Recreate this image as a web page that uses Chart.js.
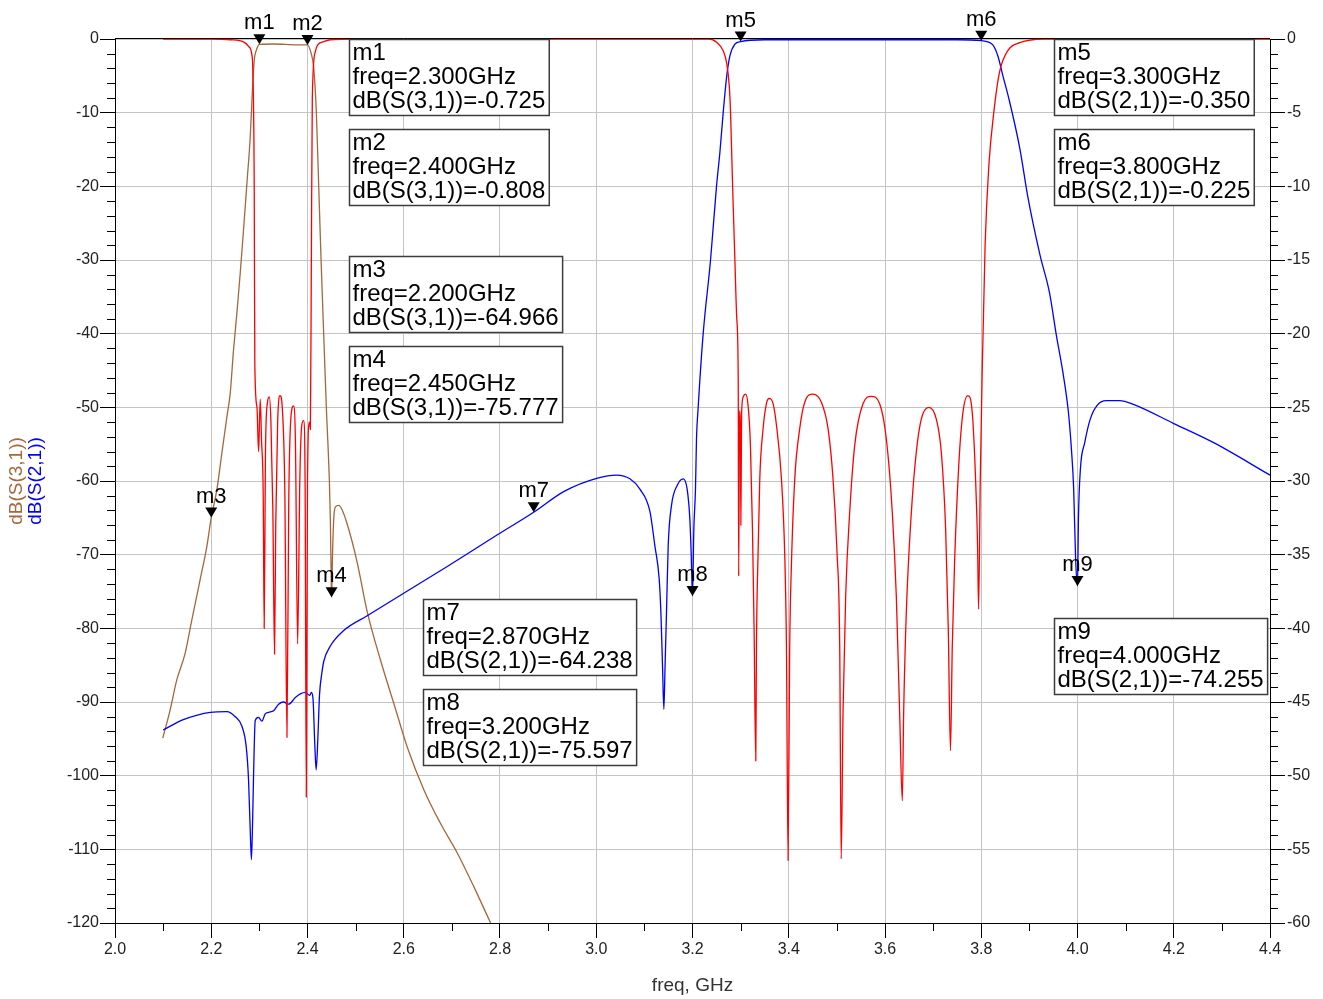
<!DOCTYPE html>
<html>
<head>
<meta charset="utf-8">
<title>S-parameter plot</title>
<script src="https://cdn.jsdelivr.net/npm/chart.js@4.4.1/dist/chart.umd.min.js"></script>
<style>
  html, body { margin: 0; padding: 0; background: #fff; }
  #wrap { width: 1323px; height: 999px; }
</style>
</head>
<body>
<div id="wrap"><canvas id="sparChart" width="1323" height="999"></canvas></div>
<script>
// ticks
const freqTicks = [2.0, 2.2, 2.4, 2.6, 2.8, 3.0, 3.2, 3.4, 3.6, 3.8, 4.0, 4.2, 4.4];
const leftTicks = [0, -10, -20, -30, -40, -50, -60, -70, -80, -90, -100, -110, -120];
const rightTicks = [0, -5, -10, -15, -20, -25, -30, -35, -40, -45, -50, -55, -60];

// dB(S(3,1)) - brown, left axis
const s31Freq = [2.0993, 2.1145, 2.1284, 2.1457, 2.1596, 2.1769, 2.1908, 2.2000, 2.2116, 2.2221,
  2.2325, 2.2394, 2.2463, 2.2533, 2.2602, 2.2671, 2.2741, 2.2810, 2.2866, 2.2893,
  2.2949, 2.3000, 2.3296, 2.3782, 2.4000, 2.4073, 2.4128, 2.4184, 2.4233, 2.4282,
  2.4336, 2.4392, 2.4454, 2.4475, 2.4490, 2.4500, 2.4520, 2.4544, 2.4580, 2.4649,
  2.4718, 2.4823, 2.5031, 2.5239, 2.5516, 2.5794, 2.6072, 2.6417, 2.6765, 2.7112,
  2.7458, 2.7806, 2.8000];
const s31Db = [-94.9, -91.1, -87.0, -83.4, -78.9, -73.4, -68.9, -64.966, -61.2, -56.2,
  -51.3, -48.1, -42.2, -37.2, -31.8, -25.9, -19.6, -13.3, -5.6, -2.9,
  -1.3, -0.725, -0.68, -0.8, -0.808, -1.9, -3.8, -10, -20, -30,
  -40, -50.1, -59.9, -65.3, -72, -75.777, -70, -65.3, -63.5, -63.3,
  -63.9, -65.8, -71.0, -77.7, -84.3, -90.2, -96.1, -101.9, -106.5, -110.5,
  -115.1, -120, -122.6];

// dB(S(2,1)) - blue, left axis
const s21Freq = [2.1000, 2.1420, 2.1980, 2.2325, 2.2498, 2.2637, 2.2727, 2.2775, 2.2810, 2.2835,
  2.2860, 2.2879, 2.2914, 2.2983, 2.3053, 2.3122, 2.3192, 2.3296, 2.3400, 2.3504,
  2.3608, 2.3747, 2.3851, 2.3955, 2.4045, 2.4080, 2.4115, 2.4150, 2.4180, 2.4215,
  2.4250, 2.4300, 2.4337, 2.4475, 2.4753, 2.5240, 2.5932, 2.6904, 2.7945, 2.8700,
  2.9333, 3.0027, 3.0420, 3.0699, 3.0907, 3.1114, 3.1218, 3.1308, 3.1343, 3.1377,
  3.1405, 3.1430, 3.1460, 3.1495, 3.1564, 3.1682, 3.1806, 3.1889, 3.1945, 3.1972,
  3.2000, 3.2028, 3.2062, 3.2083, 3.2118, 3.2222, 3.2375, 3.2500, 3.2569, 3.2638,
  3.2708, 3.2777, 3.2881, 3.3000, 3.3500, 3.7500, 3.8000, 3.8240, 3.8350, 3.8450,
  3.8570, 3.8800, 3.8970, 3.9220, 3.9420, 3.9560, 3.9700, 3.9810, 3.9875, 3.9920,
  3.9960, 4.0000, 4.0020, 4.0060, 4.0150, 4.0260, 4.0400, 4.0600, 4.0880, 4.1160,
  4.2000, 4.2830, 4.4000];
const s21Db = [-93.8, -92.4, -91.4, -91.3, -92.0, -93.3, -96.1, -100.6, -107.4, -111.4,
  -106, -100, -92.5, -92.1, -92.6, -91.6, -91.4, -91.2, -90.3, -90.0,
  -90.3, -89.4, -88.9, -88.7, -89.1, -88.7, -89.6, -95.5, -99.2, -95.0,
  -89.0, -86.0, -84.5, -82.4, -80.3, -78.3, -75.5, -71.6, -67.3, -64.238,
  -61.4, -59.6, -59.2, -59.7, -61.1, -64.1, -68.8, -73.3, -77.8, -85.1,
  -91.0, -85.1, -77.8, -68.8, -63.3, -60.6, -59.7, -61.1, -65.2, -69.7,
  -75.597, -66.5, -61.1, -54.3, -50.0, -40.0, -30.0, -19.9, -15.4, -10.0,
  -5.2, -2.3, -0.7, -0.35, -0.1, -0.1, -0.225, -0.8, -2.4, -5.0,
  -8.0, -14.8, -21.5, -29.3, -34.5, -40.2, -45.4, -50.6, -55.8, -61.0,
  -70.4, -74.255, -65.0, -58.4, -54.8, -51.7, -49.8, -49.1, -49.1, -49.6,
  -52.2, -54.8, -59.2];

// dB(S(1,1)) - red, right axis
const s11Freq = [2.1000, 2.2000, 2.2400, 2.2670, 2.2775, 2.2845, 2.2866, 2.2893, 2.2905, 2.2950,
  2.2983, 2.3018, 2.3045, 2.3080, 2.3100, 2.3125, 2.3165, 2.3206, 2.3240, 2.3280,
  2.3315, 2.3340, 2.3380, 2.3430, 2.3480, 2.3530, 2.3573, 2.3610, 2.3660, 2.3712,
  2.3750, 2.3795, 2.3840, 2.3880, 2.3920, 2.3950, 2.3975, 2.4000, 2.4040, 2.4060,
  2.4080, 2.4100, 2.4163, 2.4211, 2.4337, 2.4470, 2.5000, 3.2350, 3.2500, 3.2638,
  3.2708, 3.2763, 3.2791, 3.2833, 3.2881, 3.2920, 3.2950, 3.2960, 3.2975, 3.2995,
  3.3005, 3.3020, 3.3052, 3.3100, 3.3156, 3.3204, 3.3246, 3.3280, 3.3315, 3.3329,
  3.3363, 3.3398, 3.3467, 3.3536, 3.3590, 3.3675, 3.3744, 3.3848, 3.3917, 3.3952,
  3.3986, 3.4020, 3.4055, 3.4125, 3.4228, 3.4332, 3.4505, 3.4678, 3.4817, 3.4920,
  3.5003, 3.5059, 3.5090, 3.5128, 3.5183, 3.5266, 3.5370, 3.5543, 3.5716, 3.5889,
  3.6028, 3.6152, 3.6235, 3.6304, 3.6360, 3.6388, 3.6443, 3.6547, 3.6650, 3.6754,
  3.6910, 3.7066, 3.7170, 3.7260, 3.7315, 3.7360, 3.7398, 3.7446, 3.7536, 3.7619,
  3.7723, 3.7813, 3.7882, 3.7924, 3.7945, 3.7980, 3.8020, 3.8080, 3.8160, 3.8260,
  3.8380, 3.8560, 3.8800, 3.9300, 4.4000];
const s11Db = [0, 0, -0.05, -0.2, -0.5, -1.1, -2.35, -10, -22, -25,
  -28, -24.45, -27.25, -31, -40, -28.5, -24.75, -24.3, -26, -32,
  -41.75, -33, -26, -24.2, -25.25, -31, -47.4, -31.5, -25.5, -24.9,
  -27.5, -41.05, -30, -26.25, -25.9, -30, -51.45, -30, -26, -26.5,
  -15, -4, -0.85, -0.4, -0.18, -0.05, 0, 0, -0.22, -0.8,
  -1.6, -3.15, -5, -9.95, -15, -19, -23, -36.45, -25.25, -26.5,
  -33, -25.5, -24.3, -24.1, -24.9, -27.6, -33.25, -40.05, -49, -41.2,
  -34.85, -29.85, -26.45, -24.75, -24.4, -24.75, -26.2, -29.85, -35.05, -41.2,
  -55.75, -41.2, -35.75, -29.85, -26.45, -24.65, -24.1, -24.65, -26.45, -29.85,
  -34.85, -41.2, -55.65, -45.7, -37.8, -32.15, -27.6, -24.75, -24.25, -24.75,
  -27.15, -32.15, -37.8, -45.7, -51.7, -45.7, -38.9, -32.15, -28.05, -25.8,
  -25, -25.8, -28.05, -33.25, -40.05, -48.3, -41.2, -35.5, -28.75, -25.35,
  -24.2, -25.35, -29.85, -34.4, -38.7, -29.85, -22.5, -14, -8.5, -5,
  -2.25, -0.75, -0.25, 0, 0];

// markers
const markerNames = ['m1', 'm2', 'm3', 'm4', 'm5', 'm6', 'm7', 'm8', 'm9'];
const markerFreq = [2.300, 2.400, 2.200, 2.450, 3.300, 3.800, 2.870, 3.200, 4.000];
const markerDb = [-0.725, -0.808, -64.966, -75.777, -0.350, -0.225, -64.238, -75.597, -74.255];
const markerTrace = ['S(3,1)', 'S(3,1)', 'S(3,1)', 'S(3,1)', 'S(2,1)', 'S(2,1)', 'S(2,1)', 'S(2,1)', 'S(2,1)'];

// where each readout box sits (top-left corner, in freq / left-axis dB)
const readoutAt = [[2.487, 0], [2.487, -12.2], [2.487, -29.45], [2.487, -41.7],
  [3.951, 0], [3.951, -12.2], [2.639, -76.0], [2.639, -88.2], [3.951, -78.6]];

const FONT = "'Liberation Sans', Arial, sans-serif";
const BROWN = '#a5673b';
Chart.defaults.font.family = FONT;

const pts = (xs, ys) => xs.map((x, i) => ({ x: x, y: ys[i] }));

// minor ticks, frame top, axis titles, markers and readouts
const adsDecor = {
  id: 'adsDecor',
  beforeDatasetsDraw(chart) {
    const { ctx, chartArea: a } = chart;
    ctx.save();
    ctx.strokeStyle = '#000';
    ctx.lineWidth = 1;
    ctx.beginPath();
    ctx.moveTo(a.left, a.top - 0.5);
    ctx.lineTo(a.right, a.top - 0.5);
    ctx.stroke();
    ctx.restore();
  },
  afterDraw(chart) {
    const { ctx, chartArea: a } = chart;
    const x = chart.scales.x, y = chart.scales.y, y2 = chart.scales.y2;
    ctx.save();

    // minor ticks
    ctx.strokeStyle = '#000';
    ctx.lineWidth = 1;
    ctx.beginPath();
    for (let v = -2; v > -120; v -= 2) {
      if (v % 10 === 0) continue;
      const py = Math.round(y.getPixelForValue(v)) + 0.5;
      ctx.moveTo(a.left - 8, py); ctx.lineTo(a.left, py);
    }
    for (let v = -1; v > -60; v -= 1) {
      if (v % 5 === 0) continue;
      const py = Math.round(y2.getPixelForValue(v)) + 0.5;
      ctx.moveTo(a.right, py); ctx.lineTo(a.right + 8, py);
    }
    for (let i = 0; i < freqTicks.length - 1; i++) {
      const px = Math.round(x.getPixelForValue((freqTicks[i] + freqTicks[i + 1]) / 2)) + 0.5;
      ctx.moveTo(px, a.bottom); ctx.lineTo(px, a.bottom + 8);
    }
    ctx.stroke();

    // left axis titles
    const midY = (a.top + a.bottom) / 2;
    ctx.font = '19px ' + FONT;
    ctx.textAlign = 'center';
    ctx.textBaseline = 'middle';
    [['dB(S(3,1))', BROWN, 17], ['dB(S(2,1))', '#0000ff', 36]].forEach(([t, c, px]) => {
      ctx.save();
      ctx.translate(px, midY);
      ctx.rotate(-Math.PI / 2);
      ctx.fillStyle = c;
      ctx.fillText(t, 0, 0);
      ctx.restore();
    });

    // marker triangles + names
    markerNames.forEach((name, i) => {
      const px = x.getPixelForValue(markerFreq[i]);
      const py = y.getPixelForValue(markerDb[i]);
      ctx.fillStyle = '#000';
      ctx.beginPath();
      ctx.moveTo(px, py);
      ctx.lineTo(px - 6, py - 10);
      ctx.lineTo(px + 6, py - 10);
      ctx.closePath();
      ctx.fill();
      ctx.font = '22px ' + FONT;
      ctx.textAlign = 'center';
      ctx.textBaseline = 'middle';
      ctx.fillText(name, px, py - 21);
    });

    // readout boxes
    ctx.font = '24px ' + FONT;
    ctx.textAlign = 'left';
    ctx.textBaseline = 'middle';
    markerNames.forEach((name, i) => {
      const lines = [name,
        'freq=' + markerFreq[i].toFixed(3) + 'GHz',
        'dB(' + markerTrace[i] + ')=' + markerDb[i].toFixed(3)];
      const w = Math.max(...lines.map(l => ctx.measureText(l).width)) + 7;
      const h = 76;
      const bx = Math.round(x.getPixelForValue(readoutAt[i][0])) + 0.5;
      const by = Math.round(y.getPixelForValue(readoutAt[i][1])) + 0.5;
      ctx.fillStyle = '#fff';
      ctx.fillRect(bx, by, w, h);
      ctx.strokeStyle = '#3c3c3c';
      ctx.lineWidth = 1.5;
      ctx.strokeRect(bx, by, w, h);
      ctx.fillStyle = '#000';
      lines.forEach((l, k) => ctx.fillText(l, bx + 3, by + 14 + k * 24));
    });

    ctx.restore();
  }
};

const ctx = document.getElementById('sparChart').getContext('2d');
const sparChart = new Chart(ctx, {
  type: 'line',
  data: {
    datasets: [
      { label: 'dB(S(1,1))', data: pts(s11Freq, s11Db), yAxisID: 'y2', borderColor: '#ff0000' },
      { label: 'dB(S(2,1))', data: pts(s21Freq, s21Db), yAxisID: 'y', borderColor: '#0000ff' },
      { label: 'dB(S(3,1))', data: pts(s31Freq, s31Db), yAxisID: 'y', borderColor: BROWN }
    ]
  },
  options: {
    responsive: false,
    animation: false,
    devicePixelRatio: 1,
    elements: {
      point: { radius: 0 },
      line: { borderWidth: 1.3, cubicInterpolationMode: 'monotone', fill: false }
    },
    layout: { padding: { top: 39, left: 0, right: 0, bottom: 0 } },
    plugins: { legend: { display: false }, tooltip: { enabled: false } },
    scales: {
      x: {
        type: 'linear', min: 2.0, max: 4.4,
        afterBuildTicks: s => { s.ticks = freqTicks.map(v => ({ value: v })); },
        afterFit: s => { s.height = 76; },
        grid: { color: '#c4c4c4', tickColor: '#000', tickLength: 15 },
        border: { color: '#000', width: 1 },
        ticks: { font: { size: 16 }, color: '#222', padding: 2, maxRotation: 0, autoSkip: false,
          callback: v => Number(v).toFixed(1) },
        title: { display: true, text: 'freq, GHz', font: { size: 19 }, color: '#333',
          padding: { top: 0, bottom: 2 } }
      },
      y: {
        type: 'linear', position: 'left', min: -120, max: 0,
        afterBuildTicks: s => { s.ticks = leftTicks.map(v => ({ value: v })); },
        afterFit: s => { s.width = 115; },
        grid: { color: '#c4c4c4', tickColor: '#000', tickLength: 15 },
        border: { color: '#000', width: 1 },
        ticks: { font: { size: 16 }, color: '#222', padding: 1, callback: v => String(v) }
      },
      y2: {
        type: 'linear', position: 'right', min: -60, max: 0,
        afterBuildTicks: s => { s.ticks = rightTicks.map(v => ({ value: v })); },
        afterFit: s => { s.width = 53; },
        grid: { drawOnChartArea: false, tickColor: '#000', tickLength: 15 },
        border: { color: '#000', width: 1 },
        ticks: { font: { size: 16 }, color: '#222', padding: 2, callback: v => String(v) }
      }
    }
  },
  plugins: [adsDecor]
});
</script>
</body>
</html>
